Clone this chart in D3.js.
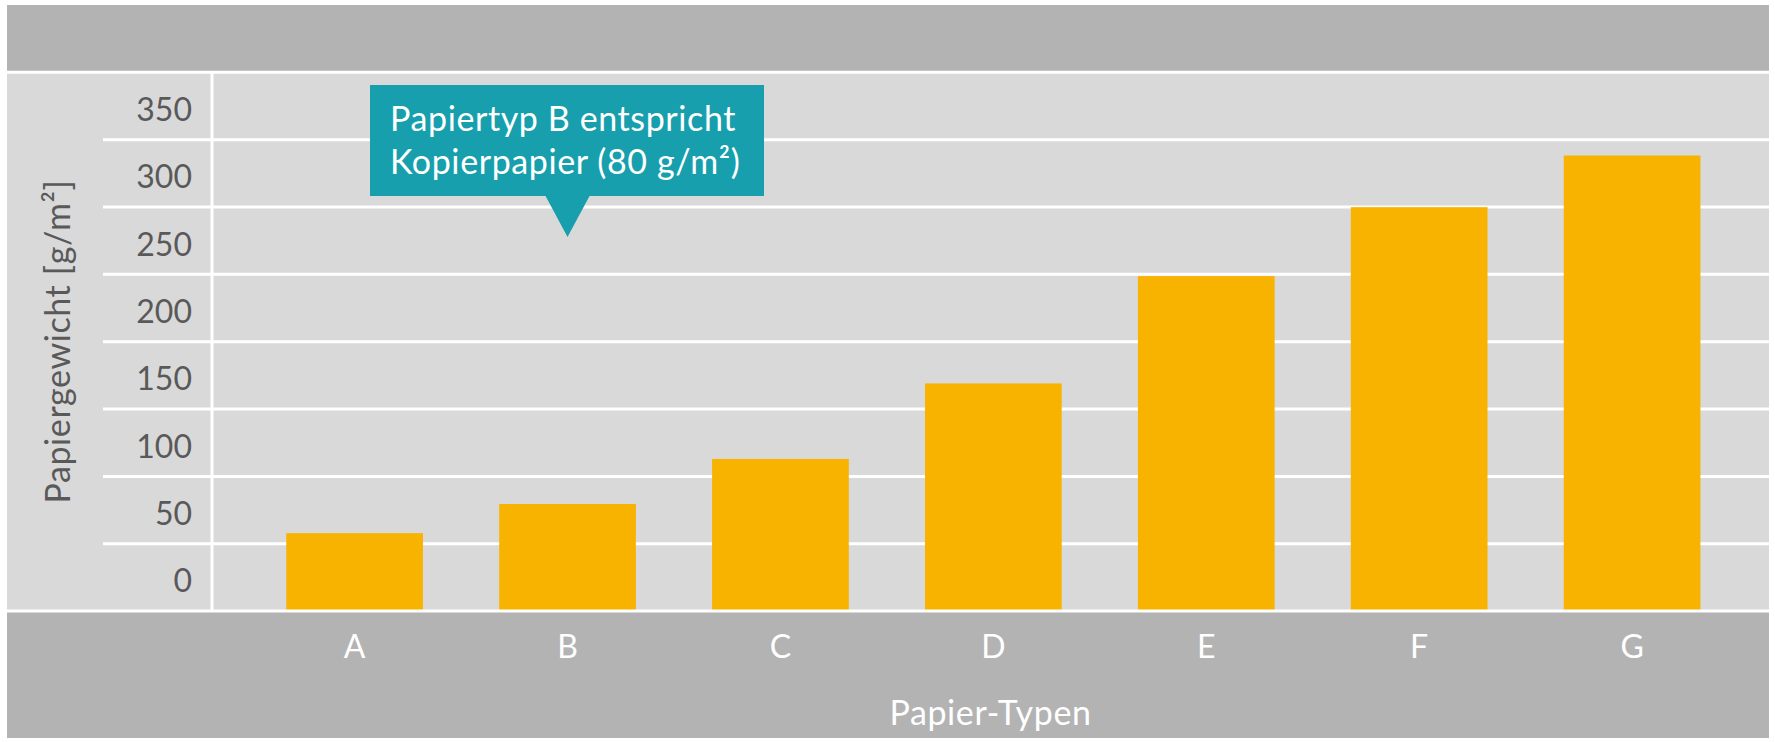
<!DOCTYPE html>
<html>
<head>
<meta charset="utf-8">
<script src="https://cdn.jsdelivr.net/npm/d3@7/dist/d3.min.js"></script>
<style>
  html, body { margin: 0; padding: 0; background: #ffffff; }
  svg { display: block; }
  text { font-family: Lato, "Open Sans", sans-serif; }
</style>
</head>
<body>
<svg id="chart" width="1775" height="742"></svg>
<script>
// Paper types and their grammage (g/m²)
const categories = ["A", "B", "C", "D", "E", "F", "G"];
const weights = [58, 80, 114, 171, 252, 304, 343];
const yTickLabels = ["0", "50", "100", "150", "200", "250", "300", "350"];
const yTitle = "Papiergewicht [g/m²]";
const xTitle = "Papier-Typen";
const calloutLines = ["Papiertyp B entspricht", "Kopierpapier (80 g/m²)"];
const calloutCategory = "B";

const W = 1775, H = 742;
const frame = { left: 7, right: 1769, top: 5, bottom: 738 };
const panel = { top: 72.3, bottom: 611.1, axisX: 212, gridX: 103 };

const colors = {
  band: "#b3b3b3",
  panel: "#d9d9d9",
  grid: "#ffffff",
  bar: "#f8b200",
  axisText: "#595959",
  callout: "#179fad"
};

const svg = d3.select("#chart");

// Background blocks: header band, plot panel, footer band
svg.append("rect")
  .attr("x", frame.left).attr("y", frame.top)
  .attr("width", frame.right - frame.left).attr("height", frame.bottom - frame.top)
  .attr("fill", colors.band);
svg.append("rect")
  .attr("x", frame.left).attr("y", panel.top)
  .attr("width", frame.right - frame.left).attr("height", panel.bottom - panel.top)
  .attr("fill", colors.panel);

// Row bands holding the y tick labels (top row = 350)
const rowBand = d3.scaleBand()
  .domain(yTickLabels.slice().reverse())
  .range([panel.top, panel.bottom])
  .padding(0);

// Value scale for the bars
const y = d3.scaleLinear().domain([0, 400]).range([610, 80]);

// Category scale
const x = d3.scaleBand()
  .domain(categories)
  .range([panel.axisX, frame.right])
  .paddingInner(0.358)
  .paddingOuter(0.3355)
  .align(0.52);

// Horizontal grid lines at the row boundaries
const boundaries = rowBand.domain().map(d => rowBand(d)).concat([panel.bottom]);
svg.append("g").selectAll("line")
  .data(boundaries.slice(1, -1))
  .join("line")
  .attr("x1", panel.gridX).attr("x2", frame.right)
  .attr("y1", d => d).attr("y2", d => d)
  .attr("stroke", colors.grid).attr("stroke-width", 3);

// Vertical separator between label column and plot
svg.append("line")
  .attr("x1", panel.axisX).attr("x2", panel.axisX)
  .attr("y1", panel.top).attr("y2", panel.bottom)
  .attr("stroke", colors.grid).attr("stroke-width", 3);

// Bars
svg.append("g").selectAll("rect")
  .data(categories.map((c, i) => ({ c, v: weights[i] })))
  .join("rect")
  .attr("x", d => x(d.c))
  .attr("width", x.bandwidth())
  .attr("y", d => y(d.v))
  .attr("height", d => y(0) - y(d.v))
  .attr("fill", colors.bar);

// Top and bottom full-width white rules
[panel.top, panel.bottom].forEach(yy => {
  svg.append("line")
    .attr("x1", frame.left).attr("x2", frame.right)
    .attr("y1", yy).attr("y2", yy)
    .attr("stroke", colors.grid).attr("stroke-width", 3);
});

// Y tick labels, centred in their rows
svg.append("g").selectAll("text")
  .data(yTickLabels)
  .join("text")
  .attr("x", 192)
  .attr("y", d => rowBand(d) + rowBand.bandwidth() / 2 + 15)
  .attr("text-anchor", "end")
  .attr("font-size", 32)
  .attr("fill", colors.axisText)
  .text(d => d);

// Y axis title
svg.append("text")
  .attr("transform", "translate(70,341.5) rotate(-90)")
  .attr("text-anchor", "middle")
  .attr("font-size", 34)
  .attr("letter-spacing", 0.6)
  .attr("fill", colors.axisText)
  .text(yTitle);

// Category labels
svg.append("g").selectAll("text")
  .data(categories)
  .join("text")
  .attr("x", d => x(d) + x.bandwidth() / 2)
  .attr("y", 658)
  .attr("text-anchor", "middle")
  .attr("font-size", 32)
  .attr("fill", "#ffffff")
  .text(d => d);

// X axis title
svg.append("text")
  .attr("x", (panel.axisX + frame.right) / 2)
  .attr("y", 725)
  .attr("text-anchor", "middle")
  .attr("font-size", 34)
  .attr("letter-spacing", 0.6)
  .attr("fill", "#ffffff")
  .text(xTitle);

// Callout pointing at paper type B
const cx = x(calloutCategory) + x.bandwidth() / 2;
const box = { x: 370, y: 85, w: 394, h: 111 };
const tipY = 237;
const callout = svg.append("g");
callout.append("path")
  .attr("d", d3.line()([
    [box.x, box.y], [box.x + box.w, box.y], [box.x + box.w, box.y + box.h],
    [cx + 22, box.y + box.h], [cx, tipY], [cx - 22, box.y + box.h],
    [box.x, box.y + box.h]
  ]) + "Z")
  .attr("fill", colors.callout);
callout.selectAll("text")
  .data(calloutLines)
  .join("text")
  .attr("x", 390)
  .attr("y", (d, i) => 131 + i * 43)
  .attr("font-size", 34)
  .attr("letter-spacing", 0.6)
  .attr("fill", "#ffffff")
  .text(d => d);
</script>
</body>
</html>
